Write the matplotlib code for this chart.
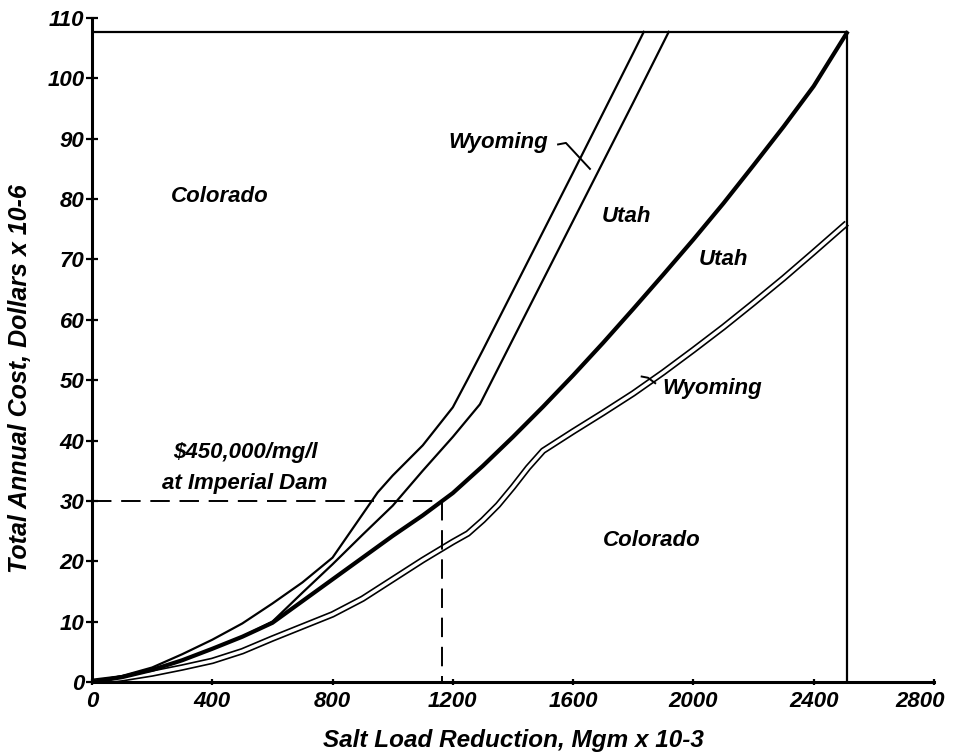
import numpy as np
import matplotlib
matplotlib.use('Agg')
import matplotlib.pyplot as plt
import matplotlib.transforms as mtransforms

plt.rcParams['font.family'] = ['Liberation Sans', 'DejaVu Sans']
plt.rcParams['font.style'] = 'italic'
plt.rcParams['font.weight'] = 'bold'

# Salt load reduction (Mgm x 10-3) vs total annual cost (dollars x 10-6)
utah_x = [0, 100, 200, 300, 400, 500, 600, 700, 800, 900, 1000, 1100, 1200, 1300,
          1400, 1500, 1600, 1700, 1800, 1900, 2000, 2100, 2200, 2300, 2400, 2510]
utah_y = [0, 0.8, 2.0, 3.6, 5.5, 7.5, 9.8, 13.4, 17.0, 20.6, 24.2, 27.6, 31.3, 35.8,
          40.6, 45.6, 50.8, 56.2, 61.8, 67.5, 73.3, 79.3, 85.6, 92.0, 98.7, 107.5]

# steep pair: Colorado/Wyoming boundary and Wyoming/Utah boundary
steep_left_x = [0, 100, 200, 300, 400, 500, 600, 700, 800, 900, 950, 1000, 1100, 1200,
                1250, 1300, 1400, 1500, 1600, 1700, 1800, 1835]
steep_left_y = [0, 1.0, 2.4, 4.6, 7.0, 9.7, 13.0, 16.5, 20.6, 27.8, 31.4, 34.2, 39.2, 45.5,
                50.2, 55.0, 64.8, 74.6, 84.4, 94.3, 104.2, 107.7]
steep_right_x = [0, 100, 200, 300, 400, 500, 600, 700, 800, 900, 1000, 1100, 1200, 1290,
                 1400, 1500, 1600, 1700, 1800, 1918]
steep_right_y = [0, 0.8, 2.0, 3.6, 5.5, 7.5, 10.0, 14.8, 19.5, 24.4, 29.2, 35.0, 40.6, 46.0,
                 56.8, 66.6, 76.4, 86.2, 96.0, 107.7]

# Wyoming band between Utah and Colorado (double line)
wyo_x = [0, 100, 200, 300, 400, 500, 600, 700, 800, 900, 1000, 1100, 1200, 1250, 1300,
         1350, 1400, 1450, 1500, 1600, 1700, 1800, 1900, 2000, 2100, 2200, 2300, 2400, 2510]
wyo_y = [0, 0.6, 1.4, 2.4, 3.5, 5.1, 7.2, 9.2, 11.2, 13.8, 17.0, 20.2, 23.2, 24.6, 26.8,
         29.3, 32.3, 35.5, 38.3, 41.5, 44.6, 47.8, 51.3, 55.0, 58.8, 62.8, 66.9, 71.2, 76.0]

box_x = 2510
box_y = 107.7
target_x = 1163
target_y = 30

xticks = [0, 400, 800, 1200, 1600, 2000, 2400, 2800]
yticks = [0, 10, 20, 30, 40, 50, 60, 70, 80, 90, 100, 110]

fig = plt.figure(figsize=(9.54, 7.55), dpi=100)
ax = fig.add_axes([0.0964, 0.0967, 0.8826, 0.8795])

# double line drawn as black stroke with white core
ax.plot(wyo_x, wyo_y, color='black', lw=4.8, solid_capstyle='butt', zorder=2)
ax.plot(wyo_x, wyo_y, color='white', lw=2.4, solid_capstyle='butt', zorder=2.1)

ax.plot(steep_left_x, steep_left_y, color='black', lw=1.6, zorder=3)
ax.plot(steep_right_x, steep_right_y, color='black', lw=1.6, zorder=3)
ax.plot(utah_x, utah_y, color='black', lw=3.0, zorder=3)

# frame lines of the study area
ax.plot([0, box_x], [box_y, box_y], color='black', lw=1.6, zorder=3)
ax.plot([box_x, box_x], [0, box_y], color='black', lw=1.6, zorder=3)

# dashed guide to $450,000/mg/l point
ax.plot([0, target_x, target_x], [target_y, target_y, 0], color='black', lw=1.4,
        dashes=(10, 5), zorder=3)

fs = 16
ax.text(426, 80.5, 'Colorado', fontsize=fs, ha='center', va='center')
ax.text(1862, 23.4, 'Colorado', fontsize=fs, ha='center', va='center')
ax.text(1350, 89.4, 'Wyoming', fontsize=fs, ha='center', va='center')
ax.text(1779, 77.1, 'Utah', fontsize=fs, ha='center', va='center')
ax.text(2099, 70, 'Utah', fontsize=fs, ha='center', va='center')
ax.text(2062, 48.6, 'Wyoming', fontsize=fs, ha='center', va='center')
ax.text(509, 38, r'\$450,000/mg/l', fontsize=fs, ha='center', va='center')
ax.text(509, 32.8, 'at Imperial Dam', fontsize=fs, ha='center', va='center')

# leader marks
ax.plot([1550, 1576, 1656], [89.05, 89.3, 85.0], color='black', lw=1.4, zorder=3)
ax.plot([1828, 1849, 1873], [50.6, 50.4, 49.5], color='black', lw=1.4, zorder=3)

ax.set_xlim(0, 2800)
ax.set_ylim(0, 110)
ax.set_xticks(xticks)
ax.set_yticks(yticks)
ax.tick_params(axis='y', direction='inout', length=9, width=1.6, labelsize=16, pad=1)
ax.tick_params(axis='x', direction='inout', length=5, width=1.6, labelsize=16, pad=4)

# pull the last x label inside the figure
last = ax.get_xticklabels()[-1]
last.set_transform(last.get_transform() +
                   mtransforms.ScaledTranslation(-14 / 100, 0, fig.dpi_scale_trans))

for s in ['top', 'right']:
    ax.spines[s].set_visible(False)
for s in ['left', 'bottom']:
    ax.spines[s].set_linewidth(2.2)

ax.set_xlabel('Salt Load Reduction, Mgm x 10-3', fontsize=17.5, fontweight='bold',
              labelpad=12)
ax.set_ylabel('Total Annual Cost, Dollars x 10-6', fontsize=18, fontweight='bold')
ax.yaxis.set_label_coords(-0.071, 0.457)

fig.savefig('out.png', dpi=100)
